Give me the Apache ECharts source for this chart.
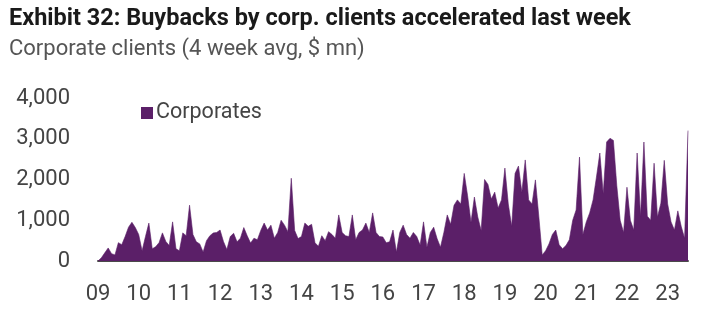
<!DOCTYPE html>
<html>
<head>
<meta charset="utf-8">
<script src="https://cdn.jsdelivr.net/npm/echarts@6/dist/echarts.min.js"></script>
<style>
html,body{margin:0;padding:0;background:#fff;}
#chart{width:721px;height:324px;}
</style>
</head>
<body>
<div id="chart"></div>
<script>
// Monthly points, first = Jan 2009
const startYear = 2009;
const v2009 = [0, 80, 200, 320, 180, 150, 450, 400, 600, 830, 950, 820];
const v2010 = [650, 250, 600, 930, 300, 350, 450, 690, 480, 380, 960, 300];
const v2011 = [250, 690, 620, 1370, 650, 470, 420, 220, 500, 620, 690, 700];
const v2012 = [760, 480, 280, 600, 680, 470, 560, 820, 620, 440, 560, 520];
const v2013 = [750, 930, 760, 880, 560, 700, 1000, 880, 720, 2030, 750, 550];
const v2014 = [600, 930, 850, 900, 450, 360, 620, 500, 720, 650, 560, 1130];
const v2015 = [700, 620, 600, 1130, 520, 700, 760, 930, 700, 1180, 700, 600];
const v2016 = [590, 450, 470, 760, 220, 700, 880, 650, 560, 700, 600, 390];
const v2017 = [960, 340, 700, 830, 550, 340, 700, 1130, 900, 1370, 1500, 1400];
const v2018 = [2150, 1600, 950, 1570, 1080, 750, 2000, 1880, 1520, 1690, 1300, 1500];
const v2019 = [2280, 1400, 850, 2150, 2330, 1690, 2480, 1500, 1400, 1990, 1100, 150];
const v2020 = [250, 420, 650, 760, 400, 300, 380, 520, 1000, 1250, 2550, 650];
const v2021 = [960, 1180, 1500, 2060, 2650, 1650, 2920, 3010, 2960, 1850, 1000, 700];
const v2022 = [1810, 1000, 760, 2650, 1100, 2920, 1100, 1000, 2400, 1080, 1420, 2470];
const v2023 = [1400, 960, 760, 1230, 850, 560, 3200];

const corporates = [].concat(v2009, v2010, v2011, v2012, v2013, v2014, v2015,
  v2016, v2017, v2018, v2019, v2020, v2021, v2022, v2023);

const xTickLabels = ['09','10','11','12','13','14','15','16','17','18','19','20','21','22','23'];
const yTicks = [0, 1000, 2000, 3000, 4000];

const seriesData = corporates.map((v, i) => [startYear + i / 12, v]);

const purple = '#5B1F68';
const FONT = 'Roboto';
const chart = echarts.init(document.getElementById('chart'), null, {renderer: 'canvas'});
chart.setOption({
  animation: false,
  backgroundColor: '#ffffff',
  title: [
    {
      text: 'Exhibit 32: Buybacks by corp. clients accelerated last week',
      left: 4, top: 2,
      textStyle: {fontFamily: FONT, fontWeight: 'bold', fontSize: 23.5, color: '#1a1a1a'}
    },
    {
      text: 'Corporate clients (4 week avg, $ mn)',
      left: 4, top: 33,
      textStyle: {fontFamily: FONT, fontWeight: 'normal', fontSize: 22, color: '#555555'}
    }
  ],
  legend: {
    left: 136, top: 97,
    itemWidth: 12, itemHeight: 12, itemGap: 6,
    icon: 'rect',
    textStyle: {fontFamily: FONT, fontSize: 21.5, color: '#444444', padding: [0,0,0,-2]},
    data: ['Corporates']
  },
  grid: {left: 98, right: 33, top: 98, bottom: 63, containLabel: false},
  xAxis: {
    type: 'value',
    min: startYear, max: 2023.5, interval: 1,
    axisLine: {show: true, lineStyle: {color: '#4a4a4a', width: 2}},
    axisTick: {show: false},
    splitLine: {show: false},
    axisLabel: {
      showMaxLabel: false,
      margin: 22,
      fontFamily: FONT, fontSize: 22, color: '#444444',
      formatter: v => xTickLabels[Math.round(v) - startYear] || ''
    }
  },
  yAxis: {
    type: 'value',
    min: yTicks[0], max: yTicks[yTicks.length - 1], interval: 1000,
    axisLine: {show: false},
    axisTick: {show: false},
    splitLine: {show: false},
    axisLabel: {
      margin: 28,
      fontFamily: FONT, fontSize: 22, color: '#444444',
      formatter: v => v.toLocaleString('en-US')
    }
  },
  series: [{
    name: 'Corporates',
    type: 'line',
    data: seriesData,
    showSymbol: false,
    symbol: 'none',
    lineStyle: {width: 0.6, color: purple},
    itemStyle: {color: purple},
    areaStyle: {color: purple, opacity: 1}
  }]
});
</script>
</body>
</html>
